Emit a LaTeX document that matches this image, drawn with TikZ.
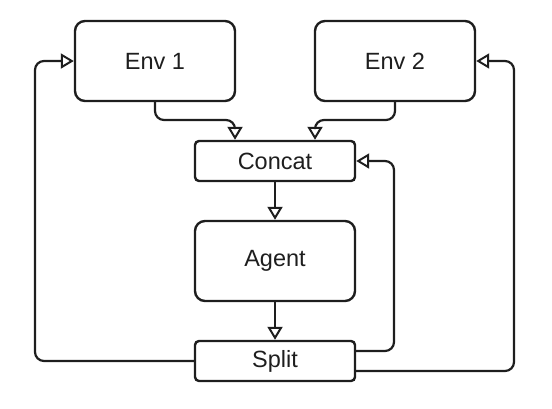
\documentclass[tikz,border=0pt]{standalone}
\usepackage{fontspec}
\setmainfont{Liberation Sans}
\usetikzlibrary{arrows.meta,calc}
\definecolor{ink}{HTML}{1E1E1E}
\begin{document}
\begin{tikzpicture}[x=1pt,y=-1pt,
  every node/.style={font=\fontsize{23.5}{27}\selectfont, text=ink},
  bigbox/.style={draw=ink, line width=2.4pt, rounded corners=10pt, minimum width=160pt, minimum height=80pt, inner sep=0pt},
  smallbox/.style={draw=ink, line width=2.4pt, rounded corners=4pt, minimum width=160pt, minimum height=40pt, inner sep=0pt},
  conn/.style={draw=ink, line width=2.2pt, rounded corners=9pt, -{Triangle[open, length=13pt, width=15pt, line width=2pt]}}
]
\useasboundingbox (0,0) rectangle (552,408);
\node[bigbox] (env1) at (155,61) {Env 1};
\node[bigbox] (env2) at (395,61) {Env 2};
\node[smallbox] (concat) at (275,161) {Concat};
\node[bigbox] (agent) at (275,261) {Agent};
\node[smallbox] (split) at (275,361) {Split};

\coordinate (l1) at (35,361);
\coordinate (l2) at (35,61);
\coordinate (r1a) at (394,351);
\coordinate (r1b) at (394,161);
\coordinate (r2a) at (514,371);
\coordinate (r2b) at (514,61);
\coordinate (e1a) at (155,120);
\coordinate (e1b) at (235,120);
\coordinate (e2a) at (395,120);
\coordinate (e2b) at (315,120);

\draw[conn] (env1.south -| e1a) -- (e1a) -- (e1b) -- (concat.north -| e1b);
\draw[conn] (env2.south -| e2a) -- (e2a) -- (e2b) -- (concat.north -| e2b);
\draw[conn] (concat.south) -- (agent.north);
\draw[conn] (agent.south) -- (split.north);
\draw[conn] (split.west) -- (l1) -- (l2) -- (env1.west);
\draw[conn] (split.east |- r1a) -- (r1a) -- (r1b) -- (concat.east);
\draw[conn] (split.east |- r2a) -- (r2a) -- (r2b) -- (env2.east);
\end{tikzpicture}
\end{document}
